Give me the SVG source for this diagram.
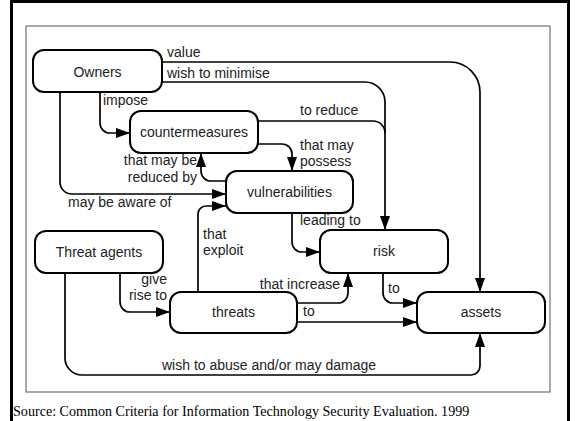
<svg xmlns="http://www.w3.org/2000/svg" width="578" height="421" viewBox="0 0 578 421">
<style>
.node rect{fill:#fff;stroke:#000;stroke-width:2}
.node text{font-family:"Liberation Sans",Arial,sans-serif;font-size:14px;fill:#222;text-anchor:middle}
.lbl{font-family:"Liberation Sans",Arial,sans-serif;font-size:14px;fill:#222}
.end{text-anchor:end}
#edges path{fill:none;stroke:#000;stroke-width:1.7}
.arr{marker-end:url(#ah)}
</style>
<defs>
<marker id="ah" markerUnits="userSpaceOnUse" markerWidth="14" markerHeight="10" refX="14" refY="5" orient="auto">
<path d="M0,0 L14,5 L0,10 z" fill="#000"/>
</marker>
</defs>
<rect x="0" y="0" width="578" height="421" fill="#fff"/>
<rect x="11.5" y="1.5" width="557" height="440" fill="none" stroke="#000" stroke-width="3"/>
<rect x="26" y="26" width="524" height="366" fill="none" stroke="#555" stroke-width="1"/>
<g id="edges">
<path class="arr" d="M162,62 H450 A30,30 0 0 1 480,92 V292"/>
<path class="arr" d="M162,82 H365 A20,20 0 0 1 385,102 V230"/>
<path d="M258,121 H373 A12,12 0 0 1 385,133"/>
<path class="arr" d="M100,92 V123 A10,10 0 0 0 110,133 H130"/>
<path class="arr" d="M60,92 V182 A12,12 0 0 0 72,194 H226"/>
<path class="arr" d="M258,144 H282 A10,10 0 0 1 292,154 V171"/>
<path class="arr" d="M226,181 H211 A10,10 0 0 1 201,171 V153"/>
<path class="arr" d="M292,213 V242 A10,10 0 0 0 302,252 H320"/>
<path class="arr" d="M198,292 V214 A8,8 0 0 1 206,206 H226"/>
<path class="arr" d="M120,273 V302 A10,10 0 0 0 130,312 H170"/>
<path class="arr" d="M65,273 V358 A17,17 0 0 0 82,375 H471 A9,9 0 0 0 480,366 V333"/>
<path class="arr" d="M297,303 H338 A10,10 0 0 0 348,293 V273"/>
<path class="arr" d="M297,322 H417"/>
<path class="arr" d="M383,273 V293 A10,10 0 0 0 393,303 H417"/>
<text class="lbl" x="167" y="57">value</text>
<text class="lbl" x="167" y="78">wish to minimise</text>
<text class="lbl" x="103" y="105">impose</text>
<text class="lbl" x="300" y="115">to reduce</text>
<text class="lbl" x="300" y="150">that may</text>
<text class="lbl" x="300" y="166">possess</text>
<text class="lbl end" x="197" y="165">that may be</text>
<text class="lbl end" x="197" y="182">reduced by</text>
<text class="lbl" x="68" y="207">may be aware of</text>
<text class="lbl" x="300" y="225">leading to</text>
<text class="lbl" x="203" y="239">that</text>
<text class="lbl" x="203" y="255">exploit</text>
<text class="lbl end" x="167" y="284">give</text>
<text class="lbl end" x="167" y="300">rise to</text>
<text class="lbl end" x="340" y="289">that increase</text>
<text class="lbl" x="303" y="316">to</text>
<text class="lbl" x="388" y="293">to</text>
<text class="lbl" x="162" y="370">wish to abuse and/or may damage</text>
</g>
<g id="owners" class="node"><rect x="33" y="50" width="129" height="42" rx="11"/><text x="97.5" y="77">Owners</text></g>
<g id="countermeasures" class="node"><rect x="130" y="111" width="128" height="42" rx="11"/><text x="194" y="137">countermeasures</text></g>
<g id="vulnerabilities" class="node"><rect x="226" y="171" width="127" height="42" rx="11"/><text x="289.5" y="197">vulnerabilities</text></g>
<g id="threat-agents" class="node"><rect x="35" y="231" width="128" height="42" rx="11"/><text x="99" y="257">Threat agents</text></g>
<g id="risk" class="node"><rect x="320" y="230" width="128" height="43" rx="11"/><text x="384" y="256">risk</text></g>
<g id="threats" class="node"><rect x="170" y="292" width="127" height="41" rx="11"/><text x="233.5" y="317">threats</text></g>
<g id="assets" class="node"><rect x="417" y="292" width="128" height="41" rx="11"/><text x="481" y="317">assets</text></g>
<text x="13" y="416" font-family="'Liberation Serif','Times New Roman',serif" font-size="14.1" fill="#000">Source: Common Criteria for Information Technology Security Evaluation. 1999</text>
</svg>
